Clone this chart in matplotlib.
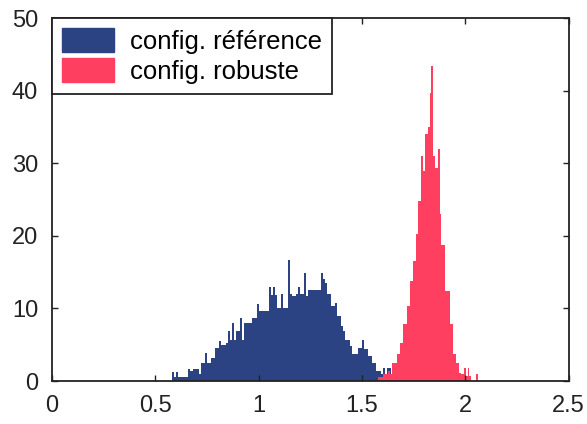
import numpy as np
import matplotlib.pyplot as plt
from matplotlib.patches import Patch

plt.rcParams['font.family'] = ['Liberation Sans', 'DejaVu Sans']

# bin counts
ref_start, ref_width = 0.58, 0.01
ref_counts = [1.2, 0.6, 1.2, 0.6, 0.6, 0.6, 0.6, 0.6, 1.6, 1.4,
              1.6, 1.6, 1.6, 1.0, 2.5, 2.5, 3.8, 2.5, 2.5, 3.2,
              3.2, 4.6, 4.6, 5.5, 5.0, 5.0, 5.3, 6.9, 5.7, 8.0,
              5.7, 6.9, 6.9, 8.7, 5.7, 8.0, 8.0, 8.0, 8.0, 8.7,
              8.7, 10.6, 9.6, 9.6, 9.6, 9.6, 9.6, 12.9, 11.8, 12.9,
              11.8, 10.0, 10.0, 12.0, 10.0, 10.0, 16.7, 12.0, 11.7, 11.7,
              12.0, 12.9, 12.0, 12.0, 14.9, 11.7, 12.6, 12.6, 12.6, 12.6,
              12.6, 12.6, 14.9, 14.0, 13.5, 12.0, 12.0, 10.3, 10.3, 10.8,
              9.0, 9.0, 7.6, 6.9, 5.7, 5.7, 4.8, 3.7, 3.7, 3.7,
              4.6, 4.6, 5.6, 4.4, 4.4, 3.4, 3.4, 2.5, 2.5, 1.4,
              1.4, 1.0, 1.8, 1.0, 1.8, 1.8]

rob_start, rob_width = 1.58, 0.008
rob_counts = [0.6, 0.6, 0.6, 1.0, 1.0, 1.0, 1.4, 1.0, 2.5, 2.5,
              2.5, 3.7, 3.7, 5.3, 5.3, 7.8, 7.8, 10.3, 10.3, 13.8,
              13.8, 16.5, 16.5, 20.2, 24.8, 24.8, 31.0, 28.9, 34.0, 34.0,
              35.0, 39.7, 43.4, 31.0, 29.4, 29.4, 32.0, 23.0, 18.8, 18.8,
              12.4, 12.4, 12.4, 7.8, 7.8, 3.7, 3.7, 2.5, 2.5, 1.1,
              0.9, 0.9, 1.8, 0.7, 1.8, 0.7, 0, 0, 0, 0.9]

labels = ['config. référence', 'config. robuste']
colors = ['#2b4283', '#ff3f5f']

fig = plt.figure(figsize=(5.87, 4.24), dpi=100)
ax = fig.add_axes([0.0886, 0.1014, 0.88, 0.8561])

ref_x = ref_start + np.arange(len(ref_counts)) * ref_width
rob_x = rob_start + np.arange(len(rob_counts)) * rob_width
ax.bar(ref_x, ref_counts, width=ref_width, align='edge', color=colors[0], linewidth=0)
ax.bar(rob_x, rob_counts, width=rob_width, align='edge', color=colors[1], linewidth=0)

ax.set_xlim(0, 2.5)
ax.set_ylim(0, 50)
ax.set_xticks([0, 0.5, 1, 1.5, 2, 2.5])
ax.set_xticklabels(['0', '0.5', '1', '1.5', '2', '2.5'])
ax.set_yticks([0, 10, 20, 30, 40, 50])
ax.tick_params(direction='in', top=True, right=True, length=4, width=1,
               labelsize=17, pad=10, colors='#222222')
for s in ax.spines.values():
    s.set_linewidth(1.3)
    s.set_color('#222222')

handles = [Patch(color=colors[0]), Patch(color=colors[1])]
leg = ax.legend(handles, labels, loc='upper left', fontsize=18.5,
                borderaxespad=0, handlelength=2.0, handleheight=1.05,
                handletextpad=0.62, labelspacing=0.15, borderpad=0.4,
                fancybox=False, framealpha=1, edgecolor='#222222')
leg.get_frame().set_linewidth(1.3)

fig.savefig('out.png', dpi=100)
